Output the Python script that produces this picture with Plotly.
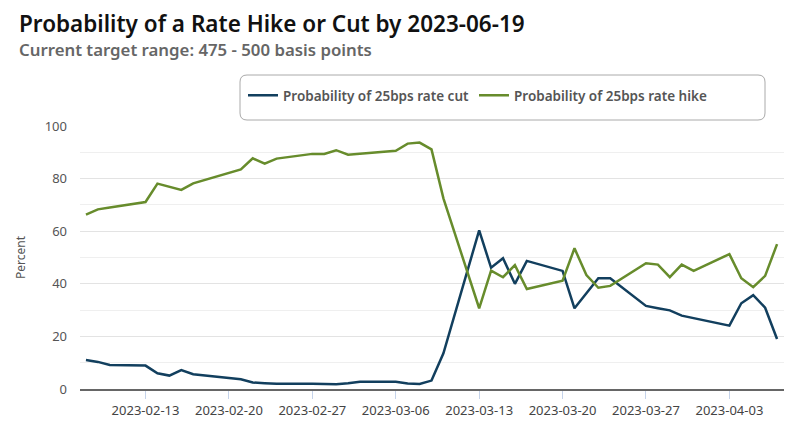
import plotly.graph_objects as go

dates = ["2023-02-08", "2023-02-09", "2023-02-10", "2023-02-13", "2023-02-14", "2023-02-15",
         "2023-02-16", "2023-02-17", "2023-02-21", "2023-02-22", "2023-02-23", "2023-02-24",
         "2023-02-27", "2023-02-28", "2023-03-01", "2023-03-02", "2023-03-03", "2023-03-06",
         "2023-03-07", "2023-03-08", "2023-03-09", "2023-03-10", "2023-03-13", "2023-03-14",
         "2023-03-15", "2023-03-16", "2023-03-17", "2023-03-20", "2023-03-21", "2023-03-22",
         "2023-03-23", "2023-03-24", "2023-03-27", "2023-03-28", "2023-03-29", "2023-03-30",
         "2023-03-31", "2023-04-03", "2023-04-04", "2023-04-05", "2023-04-06", "2023-04-07"]

cut = [11.0, 10.3, 9.1, 8.9, 6.0, 5.1,
       7.2, 5.6, 3.7, 2.5, 2.2, 2.0,
       2.0, 1.8, 1.8, 2.2, 2.8, 2.8,
       2.1, 1.9, 3.2, 13.6, 60.3, 46.1,
       49.7, 40.0, 48.7, 44.9, 30.7, 36.4,
       42.1, 42.1, 31.6, 30.7, 29.9, 27.9,
       26.9, 24.1, 32.6, 35.7, 30.9, 19.0]

hike = [66.3, 68.3, 69.0, 71.1, 78.1, 76.9,
        75.7, 78.2, 83.5, 87.7, 85.7, 87.6,
        89.4, 89.4, 90.8, 89.1, 89.5, 90.6,
        93.3, 93.7, 91.1, 72.5, 30.7, 45.0,
        42.5, 47.1, 38.0, 41.2, 53.5, 43.3,
        38.5, 39.2, 47.8, 47.3, 42.5, 47.3,
        44.9, 51.3, 42.1, 38.7, 43.0, 55.1]

tick_vals = ["2023-02-13", "2023-02-20", "2023-02-27", "2023-03-06",
             "2023-03-13", "2023-03-20", "2023-03-27", "2023-04-03"]

title_text = "Probability of a Rate Hike or Cut by 2023-06-19"
subtitle_text = "Current target range: 475 - 500 basis points"

FONT = "Noto Sans, Open Sans, sans-serif"
BLUE = "#123f5e"
GREEN = "#678c2c"

fig = go.Figure()
fig.add_trace(go.Scatter(x=dates, y=cut, mode="lines", name="Probability of 25bps rate cut",
                         line=dict(color=BLUE, width=2.5)))
fig.add_trace(go.Scatter(x=dates, y=hike, mode="lines", name="Probability of 25bps rate hike",
                         line=dict(color=GREEN, width=2.5)))

# page body has an 8px margin; work in screen coordinates and convert
OFF = 8
W, H = 806, 436
SL, SR, ST, SB = 80, 784, 126, 389  # plot area in screen pixels
L, T = SL - OFF, ST - OFF
R = W - (SR - OFF)
B = H - (SB - OFF)
pw, ph = W - L - R, H - T - B

def px(x):
    return (x - OFF - L) / pw

def py(y):
    return (H - B - (y - OFF)) / ph

# rounded legend box
x0, x1, y0, y1 = px(240), px(765), py(120), py(75)
rx, ry = 7 / pw, 7 / ph
path = (f"M{x0+rx},{y1} L{x1-rx},{y1} Q{x1},{y1} {x1},{y1-ry} L{x1},{y0+ry} "
        f"Q{x1},{y0} {x1-rx},{y0} L{x0+rx},{y0} Q{x0},{y0} {x0},{y0+ry} "
        f"L{x0},{y1-ry} Q{x0},{y1} {x0+rx},{y1} Z")

fig.update_layout(
    width=W, height=H,
    margin=dict(l=L, r=R, t=T, b=B, autoexpand=False),
    paper_bgcolor="white", plot_bgcolor="white",
    font=dict(family=FONT, color="#555555"),
    showlegend=True,
    legend=dict(orientation="h", x=px(243), xanchor="left", y=py(80), yanchor="top",
                font=dict(size=13.5, color="#555555", family=FONT, weight=600),
                bgcolor="rgba(0,0,0,0)", borderwidth=0, itemwidth=30),
    shapes=[dict(type="path", xref="paper", yref="paper", path=path,
                 line=dict(color="#aaaaaa", width=1), fillcolor="rgba(0,0,0,0)")],
    annotations=[
        dict(text=title_text, xref="paper", yref="paper", x=px(18), y=py(23),
             xanchor="left", yanchor="middle", showarrow=False, borderpad=0,
             font=dict(size=22.5, color="#111111", family=FONT, weight=600)),
        dict(text=subtitle_text, xref="paper", yref="paper", x=px(18), y=py(49),
             xanchor="left", yanchor="middle", showarrow=False, borderpad=0,
             font=dict(size=16.8, color="#666666", family=FONT, weight=600)),
    ],
    xaxis=dict(type="date", range=["2023-02-07 12:00", "2023-04-07 14:00"],
               tickvals=tick_vals, tickformat="%Y-%m-%d", showgrid=False,
               ticks="outside", ticklen=8, tickcolor="#c5d3ea", tickwidth=1,
               showline=True, linecolor="#666666", linewidth=2, automargin=False,
               tickfont=dict(size=13, color="#444444", family=FONT), zeroline=False),
    yaxis=dict(range=[0, 100], dtick=20, tick0=0, showgrid=True, gridcolor="#e3e3e3",
               gridwidth=1, zeroline=False, showline=False, automargin=False,
               ticklabelstandoff=12,
               tickfont=dict(size=13, color="#555555", family=FONT),
               title=dict(text="Percent", font=dict(size=12, color="#555555", family=FONT),
                          standoff=16),
               minor=dict(dtick=10, showgrid=True, gridcolor="#efefef", gridwidth=1)),
)

fig.write_html("out.html")
